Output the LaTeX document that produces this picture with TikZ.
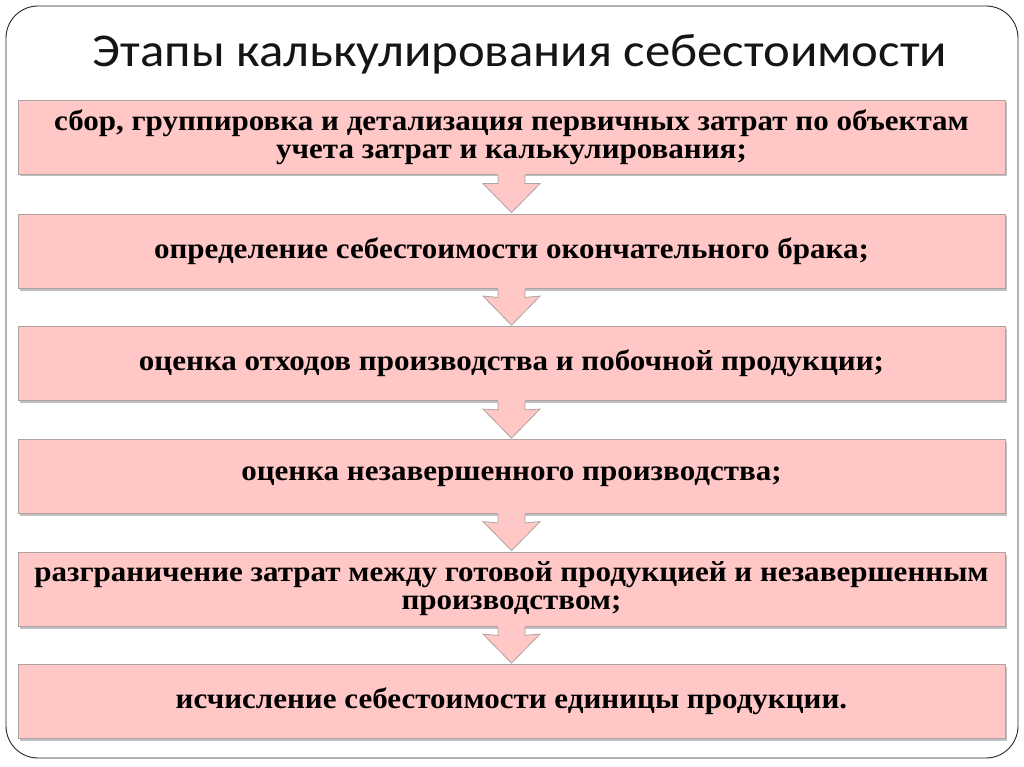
\documentclass[tikz,border=0pt]{standalone}
\usepackage{fontspec}
\setmainfont{Liberation Serif}
\newfontfamily\titlefont[FakeStretch=1.08]{Carlito}
\newfontfamily\boxfont[FakeStretch=1.07]{Liberation Serif}
\usetikzlibrary{calc,shadows}
\definecolor{boxpink}{HTML}{FFC8C6}
\definecolor{boxedge}{HTML}{B0A2A2}
\definecolor{titlecol}{HTML}{151515}
\tikzset{
  stagebox/.style={draw=boxedge, line width=0.8pt, fill=boxpink,
    minimum width=987pt, minimum height=74pt, inner sep=0pt,
    align=center, font=\boxfont\fontsize{29}{28}\selectfont\bfseries, text=black,
    drop shadow={shadow xshift=1.5pt, shadow yshift=-2.5pt, opacity=0.35, fill=black!70}},
  arrowfill/.style={fill=boxpink},
  arrowedge/.style={draw=boxedge, line width=0.8pt, line join=miter},
}
\begin{document}
\begin{tikzpicture}[x=1pt,y=-1pt]
\useasboundingbox (0,0) rectangle (1024,767);
\fill[white] (0,0) rectangle (1024,767);
\draw[black!85, line width=0.9pt, rounded corners=32pt] (6,6) rectangle (1018,758);
\node[font=\titlefont\fontsize{47}{52}\selectfont, text=titlecol, anchor=base] (title) at (520,67) {Этапы калькулирования себестоимости};
\node[stagebox] (b1) at (511.5,137) {сбор, группировка и детализация первичных затрат по объектам\\учета затрат и калькулирования;};
\node[stagebox] (b2) at (511.5,251) {определение себестоимости окончательного брака;};
\node[stagebox] (b3) at (511.5,363.5) {оценка отходов производства и побочной продукции;};
\node[stagebox] (b4) at (511.5,476.5) {оценка незавершенного производства;};
\node[stagebox] (b5) at (511.5,589) {разграничение затрат между готовой продукцией и незавершенным\\производством;};
\node[stagebox] (b6) at (511.5,701.5) {исчисление себестоимости единицы продукции.};
\foreach \a/\b in {b1/b2,b2/b3,b3/b4,b4/b5,b5/b6}{
  \fill[arrowfill] ($(\a.south)+(-13.5,-1)$) -- ($(\a.south)+(-13.5,9)$) -- ($(\b.north)+(-28.5,-30)$) -- ($(\b.north)+(0,-1)$) -- ($(\b.north)+(28.5,-30)$) -- ($(\a.south)+(13.5,9)$) -- ($(\a.south)+(13.5,-1)$) -- cycle;
  \draw[arrowedge] ($(\a.south)+(-13.5,0.5)$) -- ($(\a.south)+(-13.5,9)$) -- ($(\b.north)+(-28.5,-30)$) -- ($(\b.north)+(0,-1)$) -- ($(\b.north)+(28.5,-30)$) -- ($(\a.south)+(13.5,9)$) -- ($(\a.south)+(13.5,0.5)$);
}
\end{tikzpicture}
\end{document}
